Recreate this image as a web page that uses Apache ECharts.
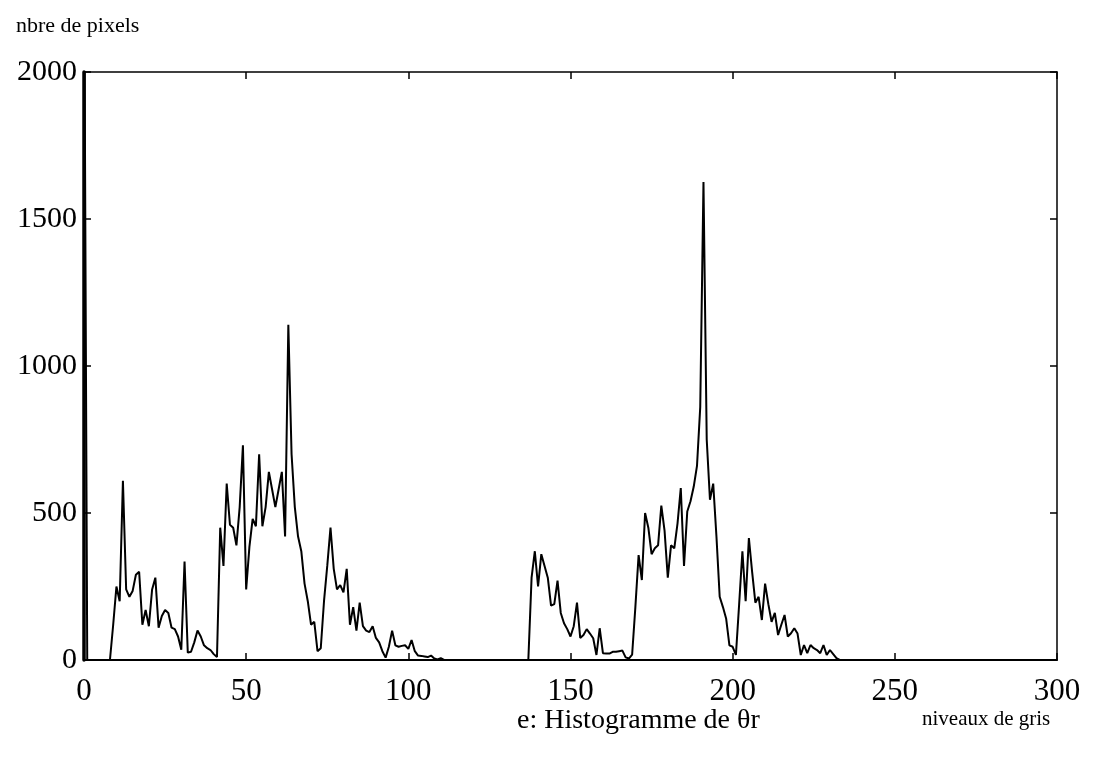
<!DOCTYPE html>
<html>
<head>
<meta charset="utf-8">
<script src="https://cdn.jsdelivr.net/npm/echarts@6/dist/echarts.min.js"></script>
<style>
html,body{margin:0;padding:0;background:#fff;}
#chart{width:1096px;height:767px;}
</style>
</head>
<body>
<div id="chart"></div>
<script>
// Pixel counts per grey level 0..255
var counts = [
  2500,0,0,0,0,0,0,0,0,120,
  250,200,610,240,215,235,290,300,120,170,
  115,240,280,110,150,170,160,110,105,80,
  35,335,25,28,60,100,80,50,40,34,
  20,10,450,320,600,460,450,390,520,730,
  240,385,480,455,700,455,520,640,580,520,
  580,640,420,1140,700,520,420,370,260,200,
  120,130,30,40,200,320,450,310,240,255,
  230,310,120,180,100,195,115,100,95,115,
  75,60,30,8,45,100,50,45,48,50,
  38,68,30,15,14,12,10,15,5,2,
  6,0,0,0,0,0,0,0,0,0,
  0,0,0,0,0,0,0,0,0,0,
  0,0,0,0,0,0,0,0,280,370,
  250,360,320,280,185,190,270,160,125,105,
  80,115,195,75,85,105,90,74,17,108,
  23,22,22,28,28,30,32,9,5,18,
  180,357,272,500,450,360,380,390,525,440,
  280,390,380,465,585,320,505,540,590,660,
  860,1626,750,545,600,420,215,180,140,50,
  45,17,190,370,200,415,300,195,215,136,
  260,190,130,160,85,120,153,80,91,108,
  90,17,51,23,51,40,34,23,51,17,
  34,20,6,0,0,0,0,0,0,0,
  0,0,0,0,0,0,0,0,0,0,
  0,0,0,0,0,0
];
var xTicks = [0, 50, 100, 150, 200, 250, 300];
var yTicks = [0, 500, 1000, 1500, 2000];
var titleText = 'e: Histogramme de \u03B8r';
var xName = 'niveaux de gris';
var yName = 'nbre de pixels';

var points = counts.map(function (v, i) { return [i, v]; });
var serif = 'Liberation Serif';

var chart = echarts.init(document.getElementById('chart'), null, {renderer: 'canvas'});
function axisStyle(width) {
  return {
    axisLine: {show: true, onZero: false, lineStyle: {color: '#000', width: width}},
    axisTick: {show: true, inside: true, length: 7, lineStyle: {color: '#000', width: 1.5}},
    splitLine: {show: false}
  };
}
chart.setOption({
  backgroundColor: '#fff',
  animation: false,
  title: [
    {text: yName, left: 11, top: 10, textStyle: {fontFamily: serif, fontSize: 22, fontWeight: 'normal', color: '#000'}},
    {text: titleText, left: 512, top: 702, textStyle: {fontFamily: serif, fontSize: 28, fontWeight: 'normal', color: '#000'}},
    {text: xName, left: 917, top: 704, textStyle: {fontFamily: serif, fontSize: 21, fontWeight: 'normal', color: '#000'}}
  ],
  grid: {left: 84, right: 39, top: 72, bottom: 107, containLabel: false},
  xAxis: [
    Object.assign({
      type: 'value', min: xTicks[0], max: xTicks[xTicks.length - 1], interval: 50, position: 'bottom',
      axisLabel: {fontFamily: serif, fontSize: 31, color: '#000', margin: 16, formatter: function (v) { return String(v); }}
    }, axisStyle(2)),
    Object.assign({
      type: 'value', min: xTicks[0], max: xTicks[xTicks.length - 1], interval: 50, position: 'top',
      axisLabel: {show: false}
    }, axisStyle(1.5))
  ],
  yAxis: [
    Object.assign({
      type: 'value', min: yTicks[0], max: yTicks[yTicks.length - 1], interval: 500, position: 'left',
      axisLabel: {fontFamily: serif, fontSize: 30, color: '#000', margin: 7, formatter: function (v) { return String(v); }}
    }, axisStyle(3.5)),
    Object.assign({
      type: 'value', min: yTicks[0], max: yTicks[yTicks.length - 1], interval: 500, position: 'right',
      axisLabel: {show: false}
    }, axisStyle(1.5))
  ],
  series: [{
    type: 'line',
    data: points,
    xAxisIndex: 0,
    yAxisIndex: 0,
    showSymbol: false,
    clip: true,
    lineStyle: {color: '#000', width: 2},
    itemStyle: {color: '#000'}
  }]
});
</script>
</body>
</html>
